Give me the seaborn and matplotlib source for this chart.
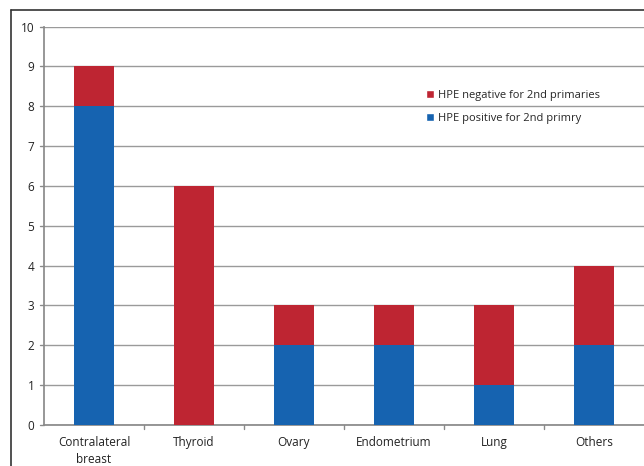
import matplotlib
matplotlib.use("Agg")
import matplotlib.pyplot as plt
import seaborn as sns
import pandas as pd
from matplotlib.patches import Patch
from matplotlib.lines import Line2D

categories = ["Contralateral\nbreast", "Thyroid", "Ovary", "Endometrium", "Lung", "Others"]
positive = [8, 0, 2, 2, 1, 2]
negative = [1, 6, 1, 1, 2, 2]
label_pos = "HPE positive for 2nd primry"
label_neg = "HPE negative for 2nd primaries"
yticks = list(range(0, 11))

RED = "#BE2532"
BLUE = "#1663B0"

sns.set_theme(style="white")
plt.rcParams['font.family'] = ['Open Sans', 'DejaVu Sans']

df = pd.DataFrame({"cat": categories, "pos": positive, "neg": negative})

fig = plt.figure(figsize=(6.44, 4.66), dpi=100)
ax = fig.add_axes([44/644, 41/466, 600/644, 398.5/466])

sns.barplot(data=df, x="cat", y="pos", color=BLUE, width=0.4, ax=ax,
            saturation=1, linewidth=0, zorder=3)
sns.barplot(data=df, x="cat", y="neg", color=RED, width=0.4, ax=ax,
            saturation=1, linewidth=0, bottom=df["pos"], zorder=3)

ax.set_xlim(-0.5, 5.5)
ax.set_ylim(0, 10)
ax.set_yticks(yticks)
ax.set_xlabel("")
ax.set_ylabel("")
ax.yaxis.grid(True, color="#9A9A9A", linewidth=1.0, zorder=0)
ax.set_axisbelow(True)
for s in ["top", "right"]:
    ax.spines[s].set_visible(False)
ax.spines["left"].set_color("#8A8A8A")
ax.spines["bottom"].set_color("#8A8A8A")
ax.tick_params(axis="both", labelsize=8.5, colors="#222222", length=0)
ax.tick_params(axis="x", pad=8)
ax.tick_params(axis="y", pad=7)
for lbl in ax.get_xticklabels():
    lbl.set_linespacing(1.4)

# category separator ticks on x axis
for b in [0.5, 1.5, 2.5, 3.5, 4.5]:
    ax.plot([b, b], [0, -0.1], color="#8A8A8A", linewidth=1, clip_on=False)
# small y tick marks
for t in yticks:
    ax.plot([-0.5, -0.54], [t, t], color="#8A8A8A", linewidth=1, clip_on=False)

# outer frame (left and top lines)
fig.add_artist(Line2D([11/644, 11/644], [0, 1 - 10/466], color="#333333",
                      linewidth=1.2, transform=fig.transFigure))
fig.add_artist(Line2D([11/644, 1], [1 - 10/466, 1 - 10/466], color="#333333",
                      linewidth=1.2, transform=fig.transFigure))

handles = [Patch(facecolor=RED, label=label_neg), Patch(facecolor=BLUE, label=label_pos)]
fig.legend(handles=handles, loc="upper left", bbox_to_anchor=(416/644, 1 - 80/466),
           frameon=False, fontsize=8, handlelength=0.7, handleheight=0.7,
           handletextpad=0.4, labelspacing=1.1)

fig.savefig("out.png", dpi=100)
